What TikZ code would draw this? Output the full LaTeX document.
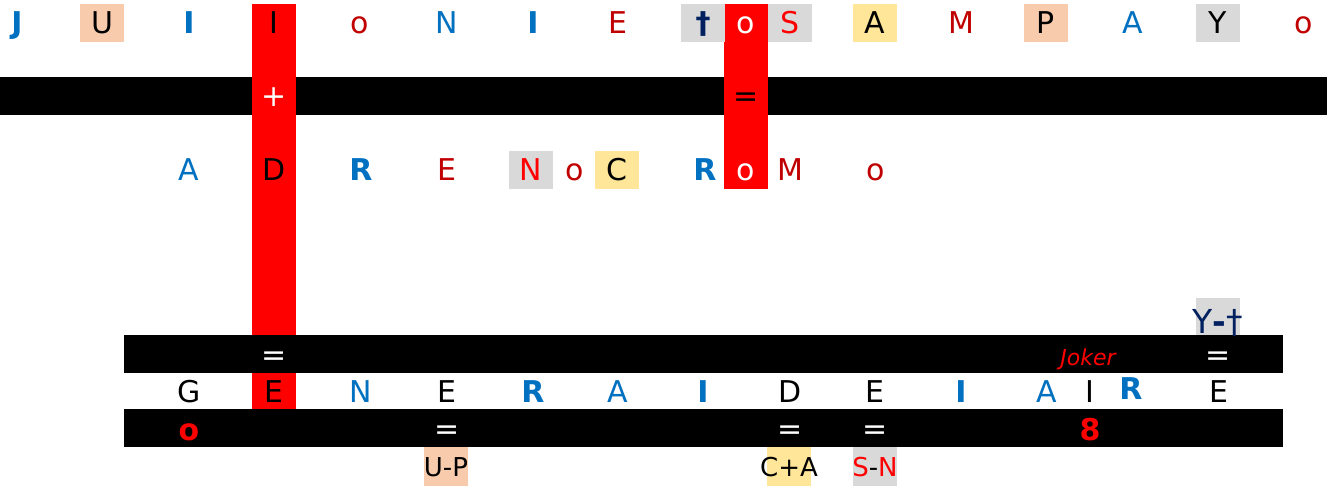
\documentclass[tikz,border=0pt]{standalone}
\usepackage{fontspec}
\setmainfont{DejaVu Sans}
\definecolor{cblue}{HTML}{0070C0}
\definecolor{cdred}{HTML}{C00000}
\definecolor{cred}{HTML}{FF0000}
\definecolor{cgray}{HTML}{D9D9D9}
\definecolor{cpeach}{HTML}{F8CBAD}
\definecolor{cyell}{HTML}{FFE699}
\definecolor{cnavy}{HTML}{002060}
\newcommand{\bigf}{\fontsize{30}{36}\selectfont}
\newcommand{\smallf}{\fontsize{26}{30}\selectfont}
\tikzset{
  cell/.style={inner sep=0pt, minimum width=44pt, minimum height=38pt, text height=22pt, text depth=0pt, font=\bigf},
  bk/.style={cell, text=black},
  bl/.style={cell, text=cblue},
  bb/.style={cell, text=cblue, font=\bigf\bfseries},
  dr/.style={cell, text=cdred},
  wh/.style={cell, text=white},
  rb/.style={cell, text=cred, font=\bigf\bfseries},
  pe/.style={cell, fill=cpeach},
  ye/.style={cell, fill=cyell},
  gr/.style={cell, fill=cgray},
  rg/.style={cell, fill=cgray, text=cred},
  ng/.style={cell, fill=cgray, text=cnavy, font=\bigf\bfseries},
  tag/.style={cell, text height=19pt, minimum height=39pt, font=\smallf},
  band/.style={fill=black}
}
\begin{document}
\begin{tikzpicture}[x=1pt, y=-1pt]
  \useasboundingbox (0,0) rectangle (1327,486);
  \def\ya{23}\def\yb{170}\def\yc{391}
  \fill[band] (0,77) rectangle (1327,115);
  \fill[cred] (252,4) rectangle (296,409);
  \fill[cred] (724,4) rectangle (768,189);
  \fill[band] (124,335) rectangle (1283,373);
  \fill[band] (124,409) rectangle (1283,447);
  % first name
  \foreach \x/\t/\s [count=\i] in {17/J/bb, 102/U/pe, 189/I/bb, 274/I/bk, 360/o/dr, 447/N/bl,
      533/I/bb, 618/E/dr, 703/†/ng, 746/o/wh, 790/S/rg, 875/A/ye, 961/M/dr, 1046/P/pe,
      1133/A/bl, 1218/Y/gr, 1304/o/dr}
    \node[\s] (top\i) at (\x,\ya) {\t};
  \node[wh] (plus) at (274,96) {+};
  \node[bk] (eqtop) at (746,96) {=};
  % second name
  \foreach \x/\t/\s [count=\i] in {189/A/bl, 274/D/bk, 361/R/bb, 447/E/dr, 531/N/rg, 575/o/dr,
      617/C/ye, 705/R/bb, 746/o/wh, 790/M/dr, 876/o/dr}
    \node[\s] (mid\i) at (\x,\yb) {\t};
  % result
  \fill[cgray] (1196,298) rectangle (1240,335);
  \node[anchor=base, inner sep=0pt, text=cnavy, font=\fontsize{33}{38}\selectfont] (ydag) at (1218,333) {Y{\bfseries-}†};
  \node[wh] (eqa) at (274,354) {=};
  \node[cell, text=cred, font=\fontsize{22}{26}\selectfont\itshape] (joker) at (1088,354) {Joker};
  \node[wh] (eqb) at (1218,354) {=};
  \foreach \x/\t/\s [count=\i] in {189/G/bk, 274/E/bk, 361/N/bl, 447/E/bk, 533/R/bb, 618/A/bl,
      703/I/bb, 790/D/bk, 875/E/bk, 961/I/bb, 1047/A/bl, 1090/I/bk, 1219/E/bk}
    \node[\s] (low\i) at (\x,\yc) {\t};
  \node[bb] (lowr) at (1131,388) {R};
  \node[rb] (zero) at (189,429) {o};
  \foreach \x [count=\i] in {447,790,875}
    \node[wh] (eqc\i) at (\x,428) {=};
  \node[rb] (eight) at (1090,429) {8};
  \fill[cpeach] (424,447) rectangle (468,486);
  \fill[cyell] (767,447) rectangle (811,486);
  \fill[cgray] (853,447) rectangle (897,486);
  \node[tag] (up) at (446,466.5) {U-P};
  \node[tag] (ca) at (789,466.5) {C+A};
  \node[tag] (sn) at (875,466.5) {\textcolor{cred}{S}-\textcolor{cred}{N}};
\end{tikzpicture}
\end{document}
